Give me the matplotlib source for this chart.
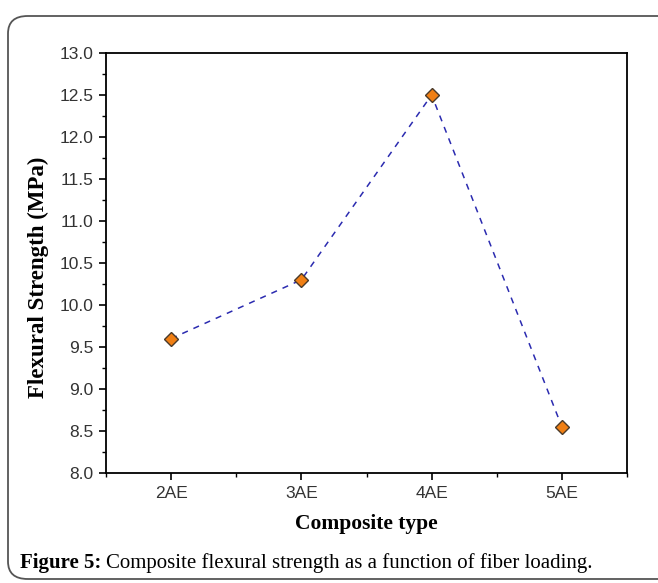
import matplotlib
matplotlib.use("Agg")
import matplotlib.pyplot as plt
from matplotlib.patches import FancyBboxPatch
from matplotlib.ticker import MultipleLocator

# ── Data ──────────────────────────────────────────────────────────────────────
composites = ["2AE", "3AE", "4AE", "5AE"]
flexural   = [9.6, 10.3, 12.5, 8.55]

W, H = 658, 583
fig = plt.figure(figsize=(W / 100, H / 100), dpi=100)

# rounded frame around figure + caption
frame = FancyBboxPatch((8 / W, 4 / H), (W + 20 - 8) / W, (H - 16 - 4) / H,
                       boxstyle="round,pad=0,rounding_size=0.03",
                       transform=fig.transFigure, facecolor="none",
                       edgecolor="#555555", linewidth=1.3, clip_on=False,
                       zorder=-1)
fig.patches.append(frame)

ax = fig.add_axes([106 / W, 1 - 473 / H, (627 - 106) / W, (473 - 53) / H])
x = range(len(composites))
ax.plot(x, flexural, linestyle=(0, (4, 4)), color="#2b2bb0", linewidth=1.1,
        marker="D", markersize=7, markerfacecolor="#f07f14",
        markeredgecolor="#4a3a2a", markeredgewidth=1.0, zorder=3)

ax.set_xlim(-0.5, 3.5)
ax.set_ylim(8.0, 13.0)
ax.set_xticks(list(x))
ax.set_xticklabels(composites)
ax.xaxis.set_minor_locator(MultipleLocator(0.5))
ax.yaxis.set_major_locator(MultipleLocator(0.5))
ax.yaxis.set_minor_locator(MultipleLocator(0.25))
ax.yaxis.set_major_formatter(matplotlib.ticker.FormatStrFormatter("%.1f"))

for s in ax.spines.values():
    s.set_linewidth(1.3)
ax.tick_params(which="major", direction="out", length=5, width=1.2,
               labelsize=12.5, pad=4)
ax.tick_params(which="minor", direction="out", length=3, width=1.0)
for lab in ax.get_xticklabels() + ax.get_yticklabels():
    lab.set_family("Liberation Sans")
    lab.set_color("#333333")

ax.set_ylabel("Flexural Strength (MPa)", family="Liberation Serif",
              fontweight="bold", fontsize=16.5)
ax.yaxis.set_label_coords(-0.11, 0.467)
ax.set_xlabel("Composite type", family="Liberation Serif",
              fontweight="bold", fontsize=15.5, labelpad=10)

# caption
fig.text(20 / W, 1 - 563 / H, "Figure 5:", family="Liberation Serif",
         fontweight="bold", fontsize=15, va="center", ha="left")
fig.text(106 / W, 1 - 563 / H,
         "Composite flexural strength as a function of fiber loading.",
         family="Liberation Serif", fontsize=15, va="center", ha="left")

fig.savefig("out.png", dpi=100)
